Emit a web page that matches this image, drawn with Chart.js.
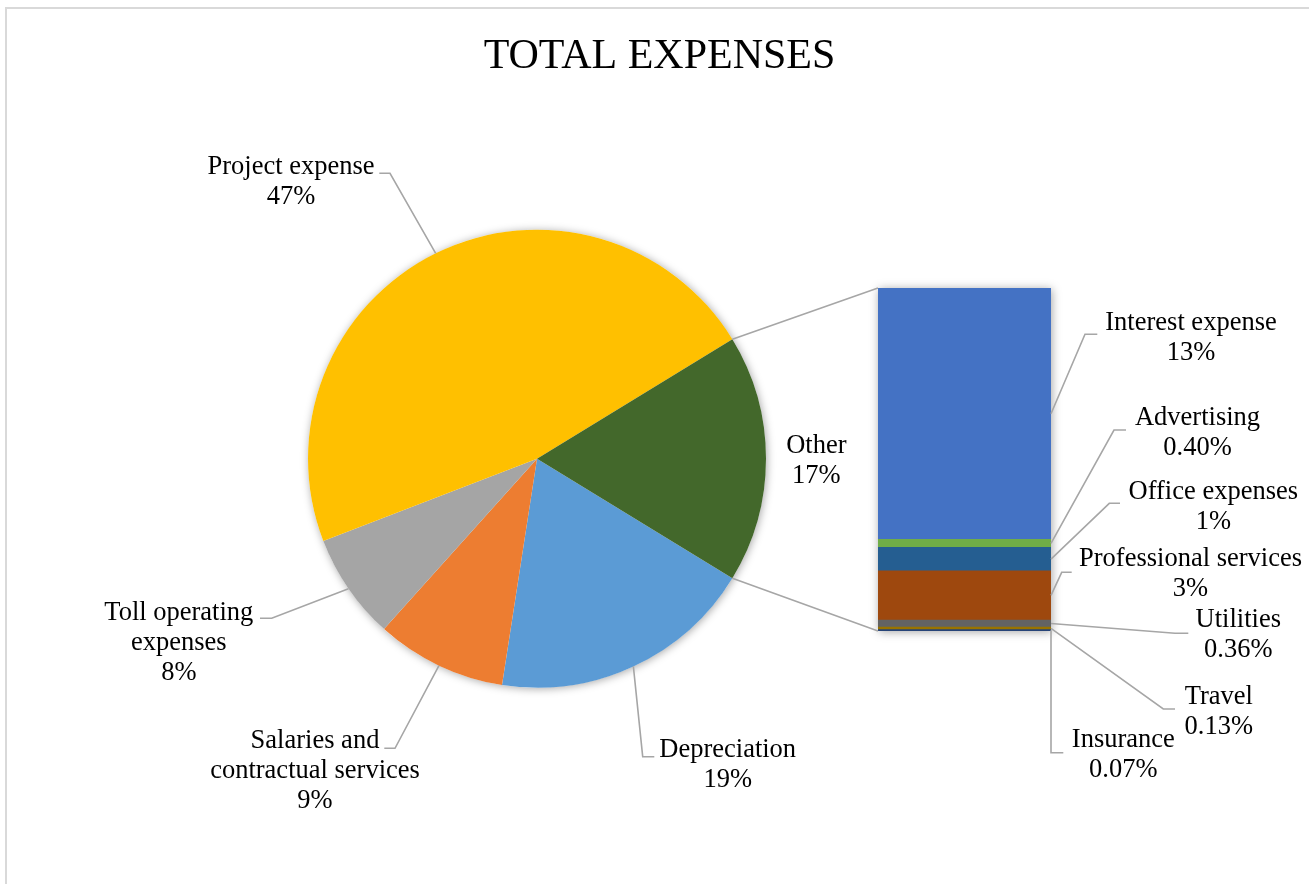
<!DOCTYPE html>
<html>
<head>
<meta charset="utf-8">
<title>Total expenses</title>
<script src="https://cdn.jsdelivr.net/npm/chart.js@4"></script>
<style>
	html, body { margin: 0; padding: 0; background: #fff; }
	#frame { position: absolute; left: 5px; top: 7px; width: 1310px; height: 880px; border-top: 2px solid #d9d9d9; border-left: 2px solid #d9d9d9; }
	canvas { position: absolute; left: 0; top: 0; }
</style>
</head>
<body>
<div id="frame"></div>
<canvas id="pie" width="1309" height="884"></canvas>
<canvas id="bar" width="1309" height="884"></canvas>
<script>
// main pie categories (the last slice "Other" is split out into the bar)
const pie_names = ['Depreciation', 'Salaries and contractual services', 'Toll operating expenses', 'Project expense'];
const pie_values = [18.7, 9.2, 7.5, 47.1];
const pie_colors = ['#5B9BD5', '#ED7D31', '#A5A5A5', '#FFC000'];

const other_name = 'Other';
const other_color = '#43682B';

// secondary bar categories, top to bottom
const bar_names = ['Interest expense', 'Advertising', 'Office expenses', 'Professional services', 'Utilities', 'Travel', 'Insurance'];
const bar_values = [12.8, 0.40, 1.2, 2.5, 0.36, 0.13, 0.07];
const bar_colors = ['#4472C4', '#70AD47', '#255E91', '#9E480E', '#636363', '#997300', '#264478'];

const title_text = 'TOTAL EXPENSES';

// where the data labels sit: text centre x, first baseline, leader elbow and end
const label_layout =
{
	'Project expense': { x: 291, y: 174, elbow: [390, 173.3], end: [379.3, 173.3] },
	'Other': { x: 816.3, y: 453.3 },
	'Depreciation': { x: 727.7, y: 756.7, elbow: [642.7, 756.7], end: [654.3, 756.7] },
	'Salaries and contractual services': { x: 315, y: 748.3, wrap: 225, elbow: [395, 748.3], end: [384.3, 748.3] },
	'Toll operating expenses': { x: 178.8, y: 620, wrap: 225, elbow: [271.7, 618.3], end: [260, 618.3] },
	'Interest expense': { x: 1191, y: 330, elbow: [1085, 334.3], end: [1097.3, 334.3] },
	'Advertising': { x: 1197.5, y: 425, elbow: [1114, 430], end: [1126, 430] },
	'Office expenses': { x: 1213.3, y: 499.3, elbow: [1109.3, 503.3], end: [1120, 503.3] },
	'Professional services': { x: 1190.5, y: 566, elbow: [1061.7, 572.3], end: [1071.7, 572.3] },
	'Utilities': { x: 1238.3, y: 627.3, elbow: [1175, 633.3], end: [1188.3, 633.3] },
	'Travel': { x: 1218.8, y: 704, elbow: [1163.3, 709], end: [1175, 709] },
	'Insurance': { x: 1123.3, y: 746.7, elbow: [1051, 752.7], end: [1063.3, 752.7] }
};

const font_family = '"Liberation Serif", "Times New Roman", serif';
const label_font = '26.5px ' + font_family;
const title_font = '42px ' + font_family;
const line_gap = 30;
const leader_color = '#A6A6A6';

const other_total = bar_values.reduce((a, b) => a + b, 0);
const grand_total = pie_values.reduce((a, b) => a + b, 0) + other_total;

function pct(v)
{
	const p = v / grand_total * 100;
	if (p >= 1) return Math.round(p) + '%';
	return p.toFixed(2) + '%';
}

function wrapText(ctx, text, width)
{
	if (!width) return [text];
	const words = text.split(' ');
	const lines = [];
	var cur = '';

	for (const w of words)
	{
		const test = cur ? cur + ' ' + w : w;
		if (cur && ctx.measureText(test).width > width)
		{
			lines.push(cur);
			cur = w;
		}
		else cur = test;
	}
	lines.push(cur);
	return lines;
}

function drawLabel(ctx, name, value, from)
{
	const lay = label_layout[name];
	if (!lay) return;

	ctx.save();
	if (from && lay.elbow)
	{
		ctx.strokeStyle = leader_color;
		ctx.lineWidth = 1.6;
		ctx.beginPath();
		ctx.moveTo(from[0], from[1]);
		ctx.lineTo(lay.elbow[0], lay.elbow[1]);
		ctx.lineTo(lay.end[0], lay.end[1]);
		ctx.stroke();
	}

	ctx.font = label_font;
	ctx.fillStyle = '#000';
	ctx.textAlign = 'center';
	ctx.textBaseline = 'alphabetic';

	const lines = wrapText(ctx, name, lay.wrap);
	lines.push(pct(value));
	for (let i = 0; i < lines.length; ++i)
		ctx.fillText(lines[i], lay.x, lay.y + i * line_gap);
	ctx.restore();
}

const pie_labels = pie_names.concat([other_name]);
const pie_data = pie_values.concat([other_total]);
const other_deg = other_total / grand_total * 360;

const pieDecor =
{
	id: 'pieDecor',
	beforeDatasetsDraw(chart)
	{
		const arc = chart.getDatasetMeta(0).data[0];
		const ctx = chart.ctx;
		ctx.save();
		ctx.shadowColor = 'rgba(0, 0, 0, 0.35)';
		ctx.shadowBlur = 9;
		ctx.shadowOffsetX = 1;
		ctx.shadowOffsetY = 1;
		ctx.fillStyle = '#fff';
		ctx.beginPath();
		ctx.arc(arc.x, arc.y, arc.outerRadius, 0, Math.PI * 2);
		ctx.fill();
		ctx.restore();
	},
	afterDraw(chart)
	{
		const ctx = chart.ctx;
		const meta = chart.getDatasetMeta(0);

		// title over the whole chart frame, not only the pie
		ctx.save();
		ctx.font = title_font;
		ctx.fillStyle = '#000';
		ctx.textAlign = 'center';
		ctx.textBaseline = 'alphabetic';
		ctx.fillText(title_text, chart.width / 2 + 5, 68);
		ctx.restore();

		meta.data.forEach(function(arc, i)
		{
			const mid = (arc.startAngle + arc.endAngle) / 2;
			const from = [arc.x + Math.cos(mid) * arc.outerRadius, arc.y + Math.sin(mid) * arc.outerRadius];
			drawLabel(ctx, pie_labels[i], pie_data[i], from);
		});
	}
};

const pie = new Chart($('pie'),
{
	type: 'pie',
	data:
	{
		labels: pie_labels,
		datasets:
		[{
			data: pie_data,
			backgroundColor: pie_colors.concat([other_color]),
			borderWidth: 0,
			hoverOffset: 0
		}]
	},
	options:
	{
		responsive: false,
		animation: false,
		rotation: 90 + other_deg / 2,
		radius: 229,
		layout: { padding: { left: 308, right: 543, top: 229.7, bottom: 196.3 } },
		plugins:
		{
			legend: { display: false },
			tooltip: { enabled: false },
			title: { display: false }
		}
	},
	plugins: [pieDecor]
});

// the bar stacks from the bottom, so the datasets go in reverse
const bar_sets = [];
for (let i = bar_names.length - 1; i >= 0; --i)
{
	bar_sets.push(
	{
		label: bar_names[i],
		data: [bar_values[i]],
		backgroundColor: bar_colors[i],
		borderWidth: 0,
		barPercentage: 1,
		categoryPercentage: 1
	});
}

const barDecor =
{
	id: 'barDecor',
	beforeDatasetsDraw(chart)
	{
		const a = chart.chartArea;
		const ctx = chart.ctx;
		ctx.save();
		ctx.shadowColor = 'rgba(0, 0, 0, 0.35)';
		ctx.shadowBlur = 9;
		ctx.shadowOffsetX = 1;
		ctx.shadowOffsetY = 1;
		ctx.fillStyle = '#fff';
		ctx.fillRect(a.left, a.top, a.right - a.left, a.bottom - a.top);
		ctx.restore();
	},
	afterDraw(chart)
	{
		const ctx = chart.ctx;
		const n = chart.data.datasets.length;
		const top = chart.getDatasetMeta(n - 1).data[0];
		const bottom = chart.getDatasetMeta(0).data[0];

		// connector lines from the "Other" slice to the bar
		const other = pie.getDatasetMeta(0).data[pie_labels.length - 1];
		const r = other.outerRadius;
		ctx.save();
		ctx.strokeStyle = leader_color;
		ctx.lineWidth = 1.6;
		ctx.beginPath();
		ctx.moveTo(other.x + Math.cos(other.startAngle) * r, other.y + Math.sin(other.startAngle) * r);
		ctx.lineTo(top.x - top.width / 2, top.y);
		ctx.moveTo(other.x + Math.cos(other.endAngle) * r, other.y + Math.sin(other.endAngle) * r);
		ctx.lineTo(bottom.x - bottom.width / 2, bottom.base);
		ctx.stroke();
		ctx.restore();

		for (let k = 0; k < n; ++k)
		{
			const el = chart.getDatasetMeta(k).data[0];
			const ds = chart.data.datasets[k];
			const from = [el.x + el.width / 2, (el.y + el.base) / 2];
			drawLabel(ctx, ds.label, ds.data[0], from);
		}
	}
};

const bar = new Chart($('bar'),
{
	type: 'bar',
	data: { labels: [other_name], datasets: bar_sets },
	options:
	{
		responsive: false,
		animation: false,
		layout: { padding: { left: 878, right: 258, top: 288, bottom: 253 } },
		scales:
		{
			x: { stacked: true, display: false },
			y: { stacked: true, display: false, min: 0, max: other_total }
		},
		plugins:
		{
			legend: { display: false },
			tooltip: { enabled: false }
		}
	},
	plugins: [barDecor]
});

function $(id)
{
	return document.getElementById(id);
}
</script>
</body>
</html>
